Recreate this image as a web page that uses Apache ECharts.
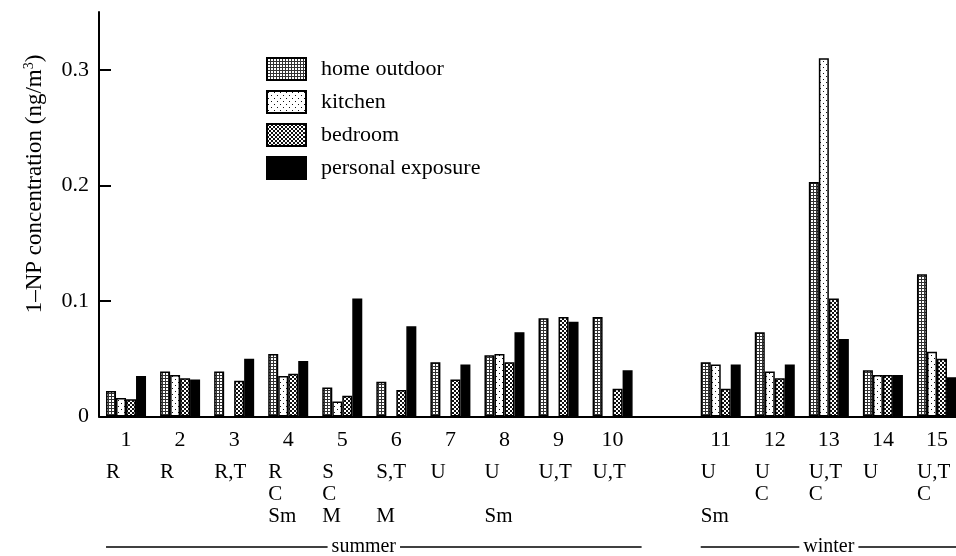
<!DOCTYPE html>
<html><head><meta charset="utf-8">
<script src="https://cdn.jsdelivr.net/npm/echarts@6/dist/echarts.min.js"></script>
<style>html,body{margin:0;padding:0;background:#fff}#c{width:956px;height:556px}</style>
</head><body><div id="c"></div>
<script>
// ---- data ----
const categories = ['1','2','3','4','5','6','7','8','9','10','','11','12','13','14','15'];
const siteRow1 = ['R','R','R,T','R','S','S,T','U','U','U,T','U,T','','U','U','U,T','U','U,T'];
const siteRow2 = ['','','','C','C','','','','','','','','C','C','','C'];
const siteRow3 = ['','','','Sm','M','M','','Sm','','','','Sm','','','',''];
const seriesNames = ['home outdoor','kitchen','bedroom','personal exposure'];
const homeOutdoor = [0.022,0.039,0.039,0.054,0.025,0.030,0.047,0.053,0.085,0.086,null,0.047,0.073,0.203,0.040,0.123];
const kitchen     = [0.016,0.036,null,0.035,0.013,null,null,0.054,null,null,null,0.045,0.039,0.310,0.036,0.056];
const bedroom     = [0.015,0.033,0.031,0.037,0.018,0.023,0.032,0.047,0.086,0.024,null,0.024,0.033,0.102,0.036,0.050];
const personal    = [0.035,0.032,0.050,0.048,0.102,0.078,0.045,0.073,0.082,0.040,null,0.045,0.045,0.067,0.036,0.034];
const yTicks = [0, 0.1, 0.2, 0.3];
const yTitle = '1\u2013NP concentration (ng/m{sup|3})';
const seasons = [{name:'summer', from:0, to:9}, {name:'winter', from:11, to:15}];

const FONT = 'Liberation Serif';

function makePattern(kind){
  const c = document.createElement('canvas');
  const ctx = c.getContext('2d');
  if (kind === 'grid') {
    c.width = 3; c.height = 3;
    ctx.fillStyle = '#fff'; ctx.fillRect(0,0,3,3);
    ctx.fillStyle = '#333'; ctx.fillRect(0,0,3,1); ctx.fillRect(0,0,1,3);
  } else if (kind === 'dots') {
    c.width = 6; c.height = 6;
    ctx.fillStyle = '#fff'; ctx.fillRect(0,0,6,6);
    ctx.fillStyle = '#111'; ctx.fillRect(1,1,1,1); ctx.fillRect(4,4,1,1);
  } else {
    c.width = 4; c.height = 4;
    ctx.fillStyle = '#fff'; ctx.fillRect(0,0,4,4);
    ctx.fillStyle = '#111'; ctx.fillRect(0,0,2,2); ctx.fillRect(2,2,2,2);
  }
  return {image: c, repeat: 'repeat'};
}
const fills = [makePattern('grid'), makePattern('dots'), makePattern('check'), '#000'];
const seriesData = [homeOutdoor, kitchen, bedroom, personal];

const chart = echarts.init(document.getElementById('c'), null, {renderer:'canvas'});
const option = {
  animation: false,
  backgroundColor: '#fff',
  grid: {left: 99, top: 12, width: 865, height: 404.5, outerBoundsMode: 'none', containLabel: false},
  legend: {
    orient: 'vertical', left: 261, top: 52, padding: 5, itemWidth: 39, itemHeight: 22, itemGap: 9,
    selectedMode: false, icon: 'rect',
    textStyle: {fontFamily: FONT, fontSize: 22, lineHeight: 22, color: '#000', padding: [0,0,0,10]},
    data: seriesNames
  },
  xAxis: {
    type: 'category', data: categories,
    axisLine: {lineStyle: {color: '#000', width: 2}},
    axisTick: {show: false},
    axisLabel: {
      interval: 0, margin: 3, color: '#000', fontFamily: FONT, hideOverlap: false,
      formatter: (val, idx) => {
        if (!val) return '';
        const e = s => s ? s : '\u00a0';
        return `{n|${val}}\n{t|${e(siteRow1[idx])}}\n{t|${e(siteRow2[idx])}}\n{t|${e(siteRow3[idx])}}`;
      },
      rich: {
        n: {fontFamily: FONT, fontSize: 22, lineHeight: 42, width: 40, align: 'center', color: '#000'},
        t: {fontFamily: FONT, fontSize: 21, lineHeight: 22, width: 40, align: 'left', color: '#000'}
      }
    }
  },
  yAxis: {
    type: 'value', min: 0, max: 0.35, interval: 0.1,
    axisLine: {show: true, lineStyle: {color: '#000', width: 2}},
    axisTick: {show: true, inside: true, length: 12, lineStyle: {color: '#000', width: 2}, customValues: yTicks.filter(v => v > 0)},
    axisLabel: {color: '#000', fontFamily: FONT, fontSize: 22, margin: 10, customValues: yTicks, formatter: v => String(v)},
    splitLine: {show: false}
  },
  series: seriesNames.map((n, i) => ({
    name: n, type: 'bar', data: seriesData[i],
    barGap: '0%', barCategoryGap: '26%',
    itemStyle: {color: fills[i], borderColor: '#000', borderWidth: 1.5}
  }))
};
chart.setOption(option);

// decorations derived from the axis scale
const px = i => chart.convertToPixel({xAxisIndex: 0}, i);
const catW = px(1) - px(0);
const half = catW * (1 - 0.26) / 2;
const graphics = [];
const lineY = 547;
seasons.forEach((s, k) => {
  const x0 = px(s.from) - half, x1 = px(s.to) + half + (k === 0 ? 9 : 0);
  graphics.push({type: 'line', shape: {x1: x0, y1: lineY, x2: x1, y2: lineY}, style: {stroke: '#000', lineWidth: 1.5}, z: 10});
  graphics.push({type: 'text', x: (x0 + x1) / 2 - (k === 0 ? 10 : 0), y: lineY, z: 11,
    style: {text: s.name, fontFamily: FONT, fontSize: 20, fill: '#000', align: 'center', verticalAlign: 'middle',
      backgroundColor: '#fff', padding: [0, 4]}});
});
graphics.push({type: 'text', x: 35, y: 184, rotation: Math.PI / 2, z: 11,
  style: {text: yTitle, fontFamily: FONT, fontSize: 23, fill: '#000', align: 'center', verticalAlign: 'middle',
    rich: {sup: {fontFamily: FONT, fontSize: 14, verticalAlign: 'bottom', padding: [0,0,11,0], fill: '#000'}}}});
chart.setOption({graphic: graphics});
</script></body></html>
